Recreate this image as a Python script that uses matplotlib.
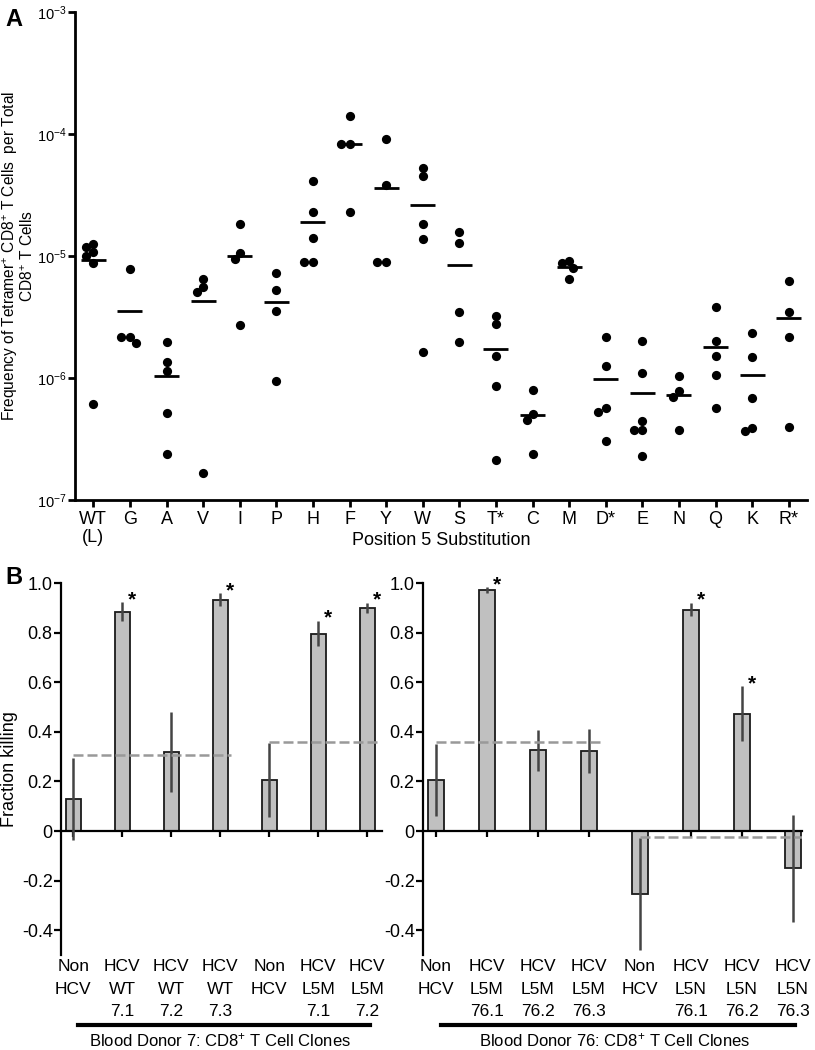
import numpy as np
import matplotlib
matplotlib.use('Agg')
import matplotlib.pyplot as plt
from matplotlib.transforms import blended_transform_factory

plt.rcParams['font.family'] = ['Liberation Sans', 'DejaVu Sans']
plt.rcParams['mathtext.fontset'] = 'custom'
plt.rcParams['mathtext.rm'] = 'Liberation Sans'
plt.rcParams['mathtext.it'] = 'Liberation Sans:italic'
plt.rcParams['mathtext.bf'] = 'Liberation Sans:bold'

# ---- panel A data: tetramer+ frequency per substitution ----
substitutions = ['WT\n(L)', 'G', 'A', 'V', 'I', 'P', 'H', 'F', 'Y', 'W',
                 'S', 'T*', 'C', 'M', 'D*', 'E', 'N', 'Q', 'K', 'R*']
freq_values = [
    [11.9e-6, 12.5e-6, 10.8e-6, 10.0e-6, 8.8e-6, 0.61e-6],
    [7.8e-6, 2.17e-6, 1.94e-6, 2.17e-6],
    [1.97e-6, 1.35e-6, 1.14e-6, 0.52e-6, 0.238e-6],
    [6.47e-6, 5.57e-6, 5.07e-6, 0.166e-6],
    [18.3e-6, 10.6e-6, 9.4e-6, 2.72e-6],
    [7.26e-6, 5.26e-6, 3.54e-6, 0.94e-6],
    [41.2e-6, 23.0e-6, 14.1e-6, 8.9e-6, 8.9e-6],
    [141e-6, 82.8e-6, 82.8e-6, 23.0e-6],
    [91e-6, 38.2e-6, 8.9e-6, 8.9e-6],
    [52.6e-6, 45.3e-6, 18.3e-6, 13.8e-6, 1.63e-6],
    [12.8e-6, 15.7e-6, 3.47e-6, 1.97e-6],
    [3.22e-6, 2.77e-6, 1.51e-6, 0.86e-6, 0.213e-6],
    [0.80e-6, 0.507e-6, 0.453e-6, 0.238e-6],
    [9.1e-6, 8.8e-6, 8.0e-6, 6.5e-6],
    [2.17e-6, 1.25e-6, 0.57e-6, 0.526e-6, 0.305e-6],
    [2.01e-6, 1.10e-6, 0.444e-6, 0.375e-6, 0.375e-6, 0.23e-6],
    [1.04e-6, 0.78e-6, 0.698e-6, 0.375e-6],
    [3.82e-6, 2.01e-6, 1.51e-6, 1.06e-6, 0.57e-6],
    [2.34e-6, 1.49e-6, 0.686e-6, 0.368e-6, 0.39e-6],
    [6.24e-6, 3.47e-6, 2.17e-6, 0.397e-6],
]
freq_means = [9.3e-6, 3.54e-6, 1.04e-6, 4.27e-6, 10.0e-6, 4.2e-6, 19.0e-6,
              83e-6, 36e-6, 26.2e-6, 8.43e-6, 1.73e-6, 0.50e-6, 8.1e-6,
              0.98e-6, 0.753e-6, 0.726e-6, 1.79e-6, 1.06e-6, 3.1e-6]

# ---- panel B data: fraction killing ----
left_labels = ['Non\nHCV', 'HCV\nWT\n7.1', 'HCV\nWT\n7.2', 'HCV\nWT\n7.3',
               'Non\nHCV', 'HCV\nL5M\n7.1', 'HCV\nL5M\n7.2']
left_kill = [0.129, 0.885, 0.319, 0.933, 0.206, 0.796, 0.901]
left_err = [0.165, 0.037, 0.162, 0.025, 0.148, 0.052, 0.020]
left_sig = [1, 3, 5, 6]
left_cutoff = [0.307, 0.36]
left_groups = [(0, 3), (4, 6)]

right_labels = ['Non\nHCV', 'HCV\nL5M\n76.1', 'HCV\nL5M\n76.2', 'HCV\nL5M\n76.3',
                'Non\nHCV', 'HCV\nL5N\n76.1', 'HCV\nL5N\n76.2', 'HCV\nL5N\n76.3']
right_kill = [0.206, 0.97, 0.326, 0.323, -0.255, 0.893, 0.473, -0.15]
right_err = [0.145, 0.012, 0.083, 0.09, 0.225, 0.028, 0.11, 0.215]
right_sig = [1, 5, 6]
right_cutoff = [0.36, -0.025]
right_groups = [(0, 3), (4, 7)]

W, H = 815, 1050
fig = plt.figure(figsize=(W / 100, H / 100), dpi=100)


def px_axes(l, t, r, b):
    return fig.add_axes([l / W, 1 - b / H, (r - l) / W, (b - t) / H])


def swarm(vals, px_x, px_dec, diam=7.5, step=0.04):
    # simple beeswarm: nearest free horizontal offset for each point
    order = np.argsort(vals)[::-1]
    placed = []
    offs = np.zeros(len(vals))
    cands = [0.0]
    for k in range(1, 20):
        cands += [-k * step, k * step]
    for i in order:
        yi = np.log10(vals[i]) * px_dec
        for c in cands:
            ok = True
            for (xo, yo) in placed:
                if np.hypot((c - xo) * px_x, yi - yo) < diam:
                    ok = False
                    break
            if ok:
                offs[i] = c
                placed.append((c, yi))
                break
    return offs


# ================= Panel A =================
axA = px_axes(75, 12, 807, 500)
axA.set_yscale('log')
axA.set_ylim(1e-7, 1e-3)
axA.set_xlim(-0.5, 19.5)
px_x = 732 / 20.0
px_dec = 488 / 4.0
for i, vals in enumerate(freq_values):
    vals = np.array(vals)
    offs = swarm(vals, px_x, px_dec)
    axA.scatter(i + offs, vals, s=44, color='black', zorder=3, linewidths=0)
    axA.plot([i - 0.34, i + 0.34], [freq_means[i], freq_means[i]],
             color='black', lw=2.0, solid_capstyle='butt', zorder=4)

for s in ['top', 'right']:
    axA.spines[s].set_visible(False)
for s in ['left', 'bottom']:
    axA.spines[s].set_linewidth(2.0)
axA.set_yticks([1e-7, 1e-6, 1e-5, 1e-4, 1e-3])
axA.set_yticklabels([r'$10^{\mathrm{-7}}$', r'$10^{\mathrm{-6}}$', r'$10^{\mathrm{-5}}$',
                     r'$10^{\mathrm{-4}}$', r'$10^{\mathrm{-3}}$'])
axA.yaxis.set_minor_locator(matplotlib.ticker.NullLocator())
axA.set_xticks(range(len(substitutions)))
axA.set_xticklabels(substitutions, fontsize=13, linespacing=1.05)
axA.tick_params(axis='y', labelsize=10.5, length=5, width=2, pad=1)
axA.tick_params(axis='x', length=5, width=2, pad=3)
axA.text(0.5, -0.082, 'Position 5 Substitution', transform=axA.transAxes,
         ha='center', va='center', fontsize=13)
axA.set_ylabel('Frequency of Tetramer$^{+}$ CD8$^{+}$ T Cells  per Total\nCD8$^{+}$ T Cells',
               fontsize=11.2, linespacing=0.95)
axA.yaxis.set_label_coords(-0.053, 0.5)
fig.text(5 / W, 1 - 19 / H, 'A', fontsize=17, fontweight='bold', va='center', ha='left')


# ================= Panel B =================
def bar_panel(ax, labels, kill, err, sig, cutoff, groups, group_label, under):
    n = len(labels)
    x = np.arange(n)
    ax.bar(x, kill, width=0.31, color='#c0c0c0', edgecolor='#1a1a1a',
           linewidth=1.3, zorder=2)
    ax.errorbar(x, kill, yerr=err, fmt='none', ecolor='#444444',
                elinewidth=1.8, capsize=0, zorder=3)
    for (a, b), lev in zip(groups, cutoff):
        ax.plot([a, b + 0.22], [lev, lev], color='#999999', lw=1.8,
                dashes=(4, 1.6), zorder=4)
    for i in sig:
        ax.text(i + 0.2, kill[i] + err[i] + 0.01, '*', fontsize=15,
                fontweight='bold', ha='center', va='center', zorder=5)
    ax.set_ylim(-0.5, 1.0)
    ax.set_xlim(-0.25, n - 1 + under)
    for s in ['top', 'right']:
        ax.spines[s].set_visible(False)
    ax.spines['left'].set_linewidth(1.6)
    ax.spines['bottom'].set_linewidth(1.6)
    ax.spines['bottom'].set_position(('data', 0))
    ax.set_yticks([-0.4, -0.2, 0, 0.2, 0.4, 0.6, 0.8, 1.0])
    ax.set_yticklabels(['-0.4', '-0.2', '0', '0.2', '0.4', '0.6', '0.8', '1.0'])
    ax.tick_params(axis='y', labelsize=13, length=5, width=1.6, pad=1)
    ax.set_xticks(x)
    ax.tick_params(axis='x', labelbottom=False, length=4, width=1.6)
    tr = blended_transform_factory(ax.transData, ax.transAxes)
    for i, lab in enumerate(labels):
        ax.text(i, -0.01, lab, transform=tr, ha='center', va='top',
                fontsize=12.5, linespacing=1.65)
    line = plt.Line2D([0.1, n - 1 + 0.05], [-0.188, -0.188], transform=tr,
                      color='black', lw=3, clip_on=False)
    ax.add_line(line)
    ax.text((n - 1) / 2.0, -0.229, group_label, transform=tr, ha='center',
            va='center', fontsize=12)


axL = px_axes(61, 583, 382, 955)
bar_panel(axL, left_labels, left_kill, left_err, left_sig, left_cutoff,
          left_groups, 'Blood Donor 7: CD8$^{+}$ T Cell Clones', 0.3)
axL.set_ylabel('Fraction killing', fontsize=13, labelpad=3)

axR = px_axes(423, 583, 802, 955)
bar_panel(axR, right_labels, right_kill, right_err, right_sig, right_cutoff,
          right_groups, 'Blood Donor 76: CD8$^{+}$ T Cell Clones', 0.18)

fig.text(5 / W, 1 - 577 / H, 'B', fontsize=17, fontweight='bold', va='center', ha='left')

fig.savefig('out.png', dpi=100)
